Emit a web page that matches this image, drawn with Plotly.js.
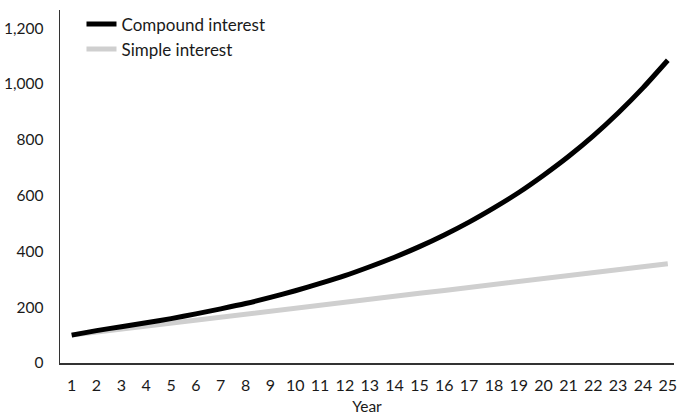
<!DOCTYPE html>
<html>
<head>
<meta charset="utf-8">
<script src="https://cdn.plot.ly/plotly-3.0.1.min.js"></script>
<style>html,body{margin:0;padding:0;background:#fff}#chart{width:680px;height:419px}</style>
</head>
<body>
<div id="chart"></div>
<script>
const years = [1,2,3,4,5,6,7,8,9,10,11,12,13,14,15,16,17,18,19,20,21,22,23,24,25];
const compoundInterest = [100,116,130,144,159,176,194,213,235,259,285,313,345,379,417,459,505,556,611,673,740,814,896,986,1085];
const simpleInterest = [100,111,122,132,143,154,164,175,186,196,207,218,228,239,250,260,271,282,292,303,314,324,335,346,356];
const yTicks = [0,200,400,600,800,1000,1200];
const yTickText = ['0','200','400','600','800','1,000','1,200'];

const fontFam = 'Lato, "Open Sans", sans-serif';
const traces = [
  {x: years, y: compoundInterest, name: 'Compound interest', type: 'scatter', mode: 'lines',
   line: {color: '#000000', width: 5, shape: 'spline', smoothing: 0.6}},
  {x: years, y: simpleInterest, name: 'Simple interest', type: 'scatter', mode: 'lines',
   line: {color: '#cfcfcf', width: 5}}
];
const data = [traces[1], traces[0]];
const layout = {
  width: 680, height: 419,
  margin: {l: 60, r: 6, t: 7, b: 56},
  paper_bgcolor: '#ffffff', plot_bgcolor: '#ffffff',
  font: {family: fontFam, size: 15.5, color: '#1a1a1a'},
  showlegend: true,
  legend: {x: 0.035, y: 1.01, xanchor: 'left', yanchor: 'top', traceorder: 'reversed',
           bgcolor: 'rgba(0,0,0,0)', font: {family: fontFam, size: 17, color: '#1a1a1a'},
           itemwidth: 30, tracegroupgap: 0},
  xaxis: {range: [0.53, 25.25], tickvals: years, ticktext: years.map(String),
          showgrid: false, zeroline: false, showline: true, linecolor: '#333333', linewidth: 1.5,
          ticks: '', ticklabelstandoff: 7, tickfont: {size: 16},
          title: {text: 'Year', font: {family: fontFam, size: 15.5, color: '#1a1a1a'}, standoff: 8}},
  yaxis: {range: [0, 1265], tickvals: yTicks, ticktext: yTickText,
          showgrid: false, zeroline: false, showline: true, linecolor: '#333333', linewidth: 1.5,
          ticks: '', ticklabelstandoff: 12}
};
Plotly.newPlot('chart', data, layout, {displayModeBar: false, staticPlot: true});
</script>
</body>
</html>
